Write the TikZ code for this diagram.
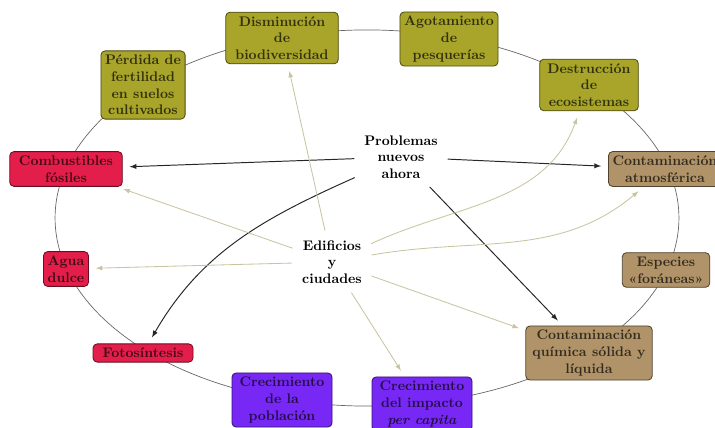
\documentclass[tikz,border=0pt]{standalone}
\usetikzlibrary{backgrounds}

\definecolor{olivo}{RGB}{168,165,42}
\definecolor{rojo}{RGB}{228,30,74}
\definecolor{cuero}{RGB}{176,147,104}
\definecolor{violeta}{RGB}{120,40,245}
\definecolor{beige}{RGB}{200,195,160}

\tikzset{
  caja/.style={draw=#1!45!black, fill=#1, text=#1!30!black, rounded corners=3pt,
    align=center, font=\bfseries, inner xsep=3pt, inner ysep=3pt, line width=0.6pt},
  texto/.style={align=center, font=\bfseries, inner sep=3pt},
  negra/.style={->, >=latex, line width=0.7pt, black!85, shorten <=4pt, shorten >=5pt},
  clara/.style={->, >=latex, line width=0.6pt, beige, shorten <=4pt, shorten >=5pt}
}

\begin{document}
\begin{tikzpicture}[x=0.72pt,y=0.72pt]
\useasboundingbox (0,0) rectangle (715,428);
% anillo
\draw[black!60, line width=0.5pt] (367,210) ellipse [x radius=224.6pt, y radius=135.4pt];

\node[caja=olivo, minimum width=81pt] (dis) at (282,390) {Disminución\\de\\biodiversidad};
\node[caja=olivo, minimum width=70pt] (ago) at (449,389) {Agotamiento\\de\\pesquerías};
\node[caja=olivo] (per) at (143,343) {Pérdida de\\fertilidad\\en suelos\\cultivados};
\node[caja=olivo, minimum width=71pt] (des) at (589,343) {Destrucción\\de\\ecosistemas};
\node[caja=rojo, minimum width=81pt] (com) at (66,259) {Combustibles\\fósiles};
\node[caja=cuero] (atm) at (665,259) {Contaminación\\atmosférica};
\node[caja=cuero, minimum width=63pt] (esp) at (666,158) {Especies\\«foráneas»};
\node[caja=rojo] (agu) at (66,159) {Agua\\dulce};
\node[caja=rojo, minimum width=72pt] (fot) at (143,75) {Fotosíntesis};
\node[caja=cuero, minimum width=91pt] (qui) at (589,75) {Contaminación\\química sólida y\\líquida};
\node[caja=violeta, minimum width=72pt] (pob) at (282,28) {Crecimiento\\de la\\población};
\node[caja=violeta, minimum width=72pt] (imp) at (422,24) {Crecimiento\\del impacto\\\textit{per capita}};

\node[texto] (pro) at (401,271) {Problemas\\nuevos\\ahora};
\node[texto] (edi) at (332,166) {Edificios\\y\\ciudades};

% problemas nuevos
\draw[negra] (pro) -- (com);
\draw[negra] (pro) -- (atm);
\draw[negra] (pro) -- (qui);
\draw[negra] (pro) to[out=204,in=60] (fot);
% edificios y ciudades
\draw[clara] (edi) -- (com);
\draw[clara] (edi) -- (agu);
\draw[clara] (edi) -- (dis);
\draw[clara] (edi) -- (qui);
\draw[clara] (edi) -- (imp);
\draw[clara] (edi) to[out=25,in=-110] (des);
\draw[clara] (edi) to[out=10,in=220] (atm);
\end{tikzpicture}
\end{document}
